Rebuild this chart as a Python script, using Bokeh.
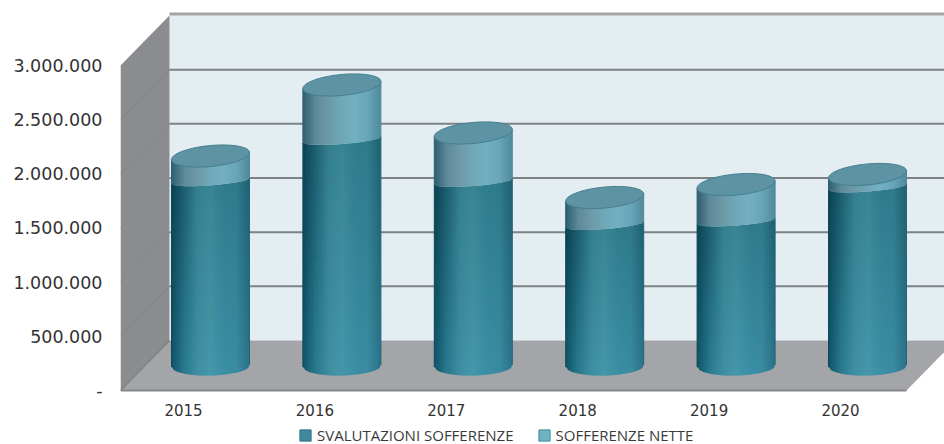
import numpy as np
from bokeh.embed import file_html
from bokeh.models import FixedTicker, Legend, LegendItem, Range1d
from bokeh.plotting import figure
from bokeh.resources import INLINE

years = [2015, 2016, 2017, 2018, 2019, 2020]
svalutazioni = [1709000, 2091000, 1703000, 1306000, 1338000, 1652000]
nette = [229000, 503000, 448000, 249000, 337000, 116000]
y_ticks = [0, 500000, 1000000, 1500000, 2000000, 2500000, 3000000]
y_tick_labels = ["-", "500.000", "1.000.000", "1.500.000", "2.000.000", "2.500.000", "3.000.000"]
series_names = ["SVALUTAZIONI SOFFERENZE", "SOFFERENZE NETTE"]

# Scale factors of the frame: one category step and one axis unit, in pixels.
X_STEP = 131.4
Y_UNIT = 54.17 / 500000
px_x = 1 / X_STEP
px_y = 1 / Y_UNIT

FRAME_W, FRAME_H, BELOW_ZERO = 824, 444, 54
x0 = years[0] - 63 * px_x

p = figure(
    width=944, height=444, output_backend="svg", toolbar_location=None,
    x_range=Range1d(x0, x0 + FRAME_W * px_x),
    y_range=Range1d(-BELOW_ZERO * px_y, (FRAME_H - BELOW_ZERO) * px_y),
    min_border_left=120, min_border_right=0, min_border_top=0, min_border_bottom=0,
    outline_line_color=None, background_fill_color="white", border_fill_color="white",
)
p.grid.visible = False

for ax in (p.xaxis[0], p.yaxis[0]):
    ax.axis_line_color = None
    ax.major_tick_line_color = None
    ax.minor_tick_line_color = None
    ax.major_label_text_font = "DejaVu Sans"
    ax.major_label_text_color = "#333333"
p.yaxis[0].ticker = FixedTicker(ticks=y_ticks)
p.yaxis[0].major_label_overrides = dict(zip(y_ticks, y_tick_labels))
p.yaxis[0].major_label_text_font_size = "17.5px"
p.yaxis[0].major_label_standoff = 12
p.xaxis[0].fixed_location = 0
p.xaxis[0].ticker = FixedTicker(ticks=years)
p.xaxis[0].major_label_overrides = {y: str(y) for y in years}
p.xaxis[0].major_label_text_font_size = "15px"
p.xaxis[0].major_label_standoff = 7

# The 3D box: depth pushes the back plane right and up.
depth_x = 49 * px_x
depth_y = 50 * px_y
left = x0
right = x0 + 786 * px_x
far = x0 + 900 * px_x
y_top = y_ticks[-1]

p.patch([left + depth_x, far, far, left + depth_x],
        [depth_y, depth_y, y_top + depth_y, y_top + depth_y],
        fill_color="#e3edf2", line_color=None)
p.patch([left, left + depth_x, left + depth_x, left],
        [0, depth_y, y_top + depth_y, y_top],
        fill_color="#8b8c90", line_color=None)
p.patch([left, left + depth_x, right + depth_x, right],
        [0, depth_y, depth_y, 0],
        fill_color="#a3a5a8", line_color=None)

for v in y_ticks[1:-1]:
    p.line([left + depth_x, far], [v + depth_y, v + depth_y], line_color="#7d8284", line_width=2)
    p.line([left, left + depth_x], [v, v + depth_y], line_color="#848589", line_width=1)
p.line([left + depth_x, far], [y_top + depth_y + 1.5 * px_y] * 2, line_color="#a3a3a3", line_width=3)
p.line([left, left + depth_x], [0, depth_y], line_color="#7f8083", line_width=1.5)
p.line([left, right], [0, 0], line_color="#86878a", line_width=2)


def mix(stops, t):
    """Interpolate a colour along evenly spaced hex stops."""
    rgb = np.array([[int(c[i:i + 2], 16) for i in (1, 3, 5)] for c in stops], float)
    pos = np.linspace(0, 1, len(stops))
    return "#%02x%02x%02x" % tuple(int(round(np.interp(t, pos, rgb[:, k]))) for k in range(3))


LOWER_TOP = ["#0a4352", "#1d5f70", "#34808f", "#3a8593", "#2f7c8c", "#2f7a8b", "#1e6071"]
LOWER_BOTTOM = ["#0f5468", "#2a7b90", "#3f8fa3", "#4597a9", "#3a8fa6", "#3a8ba0", "#2a7288"]
UPPER = ["#2f5f70", "#5f8a9a", "#6e9aa8", "#6fa8b8", "#74b0c2", "#68a5b8", "#4f8a9c"]

half_w = 39 * px_x
top_b = 10.5 * px_y
top_tilt = 3.5 * px_y
seam_b = 4.5 * px_y
seam_tilt = 3.0 * px_y
base_b = 9.5 * px_y
base_tilt = 1.0 * px_y
base = 24.5 * px_y
shift = 27 * px_x
N_STRIPS = 39
N_BANDS = 24


def front(u, b, s):
    """Height of the visible front edge of a sheared ellipse at position u in [-1, 1]."""
    return s * u - b * np.sqrt(max(1 - u * u, 0))


low_x, low_y, low_c, up_x, up_y, up_c = [], [], [], [], [], []
for year, low, up in zip(years, svalutazioni, nette):
    cx = year + shift
    edges = np.linspace(-1, 1, N_STRIPS + 1)
    for j in range(N_STRIPS):
        a, b = edges[j], edges[j + 1]
        tc = (a + b + 2) / 4
        # Strips overlap the next one by a pixel, which keeps seams from showing.
        xa = cx + a * half_w
        xb = cx + b * half_w + (px_x if j < N_STRIPS - 1 else 0)
        bl, br = front(a, base_b, base_tilt) + base, front(b, base_b, base_tilt) + base
        tl, tr = front(a, seam_b, seam_tilt) + base + low, front(b, seam_b, seam_tilt) + base + low
        for k in range(N_BANDS):
            f0, f1 = k / N_BANDS, (k + 1) / N_BANDS
            over = 1.5 * px_y if k < N_BANDS - 1 else 0
            low_x.append([xa, xb, xb, xa])
            low_y.append([bl + (tl - bl) * f0, br + (tr - br) * f0,
                          br + (tr - br) * f1 + over, bl + (tl - bl) * f1 + over])
            low_c.append(mix([mix(LOWER_BOTTOM, tc), mix(LOWER_TOP, tc)], (k + 0.5) / N_BANDS))
        up_x.append([xa, xb, xb, xa])
        up_y.append([tl, tr, base + low + up + top_tilt * b, base + low + up + top_tilt * a])
        up_c.append(mix(UPPER, tc))

p.patches(low_x, low_y, fill_color=low_c, line_color=None)
p.patches(up_x, up_y, fill_color=up_c, line_color=None)

# Thin edge lines hide the stepping where the strips meet the silhouette.
for year, low, up in zip(years, svalutazioni, nette):
    cx = year + shift
    seam_l, seam_r = base + low - seam_tilt, base + low + seam_tilt
    top_l, top_r = base + low + up - top_tilt, base + low + up + top_tilt
    p.line([cx - half_w] * 2, [base - base_tilt, seam_l], line_color="#0c4858", line_width=1)
    p.line([cx + half_w] * 2, [base + base_tilt, seam_r], line_color="#246678", line_width=1)
    p.line([cx - half_w] * 2, [seam_l, top_l], line_color="#2f5f70", line_width=1)
    p.line([cx + half_w] * 2, [seam_r, top_r], line_color="#4f8a9c", line_width=1)

t = np.linspace(0, 2 * np.pi, 90)
for year, low, up in zip(years, svalutazioni, nette):
    cx = year + shift
    cy = base + low + up
    p.patch(cx + half_w * np.cos(t), cy + top_tilt * np.cos(t) + top_b * np.sin(t),
            fill_color="#5e93a3", line_color="#437f8f", line_width=1)

# Legend swatches come from two rectangles parked outside the visible range.
swatch_a = p.quad(left=[x0 - 3], right=[x0 - 2], bottom=[0], top=[1],
                  fill_color="#3f8a9f", line_color="#2f6f83")
swatch_b = p.quad(left=[x0 - 3], right=[x0 - 2], bottom=[0], top=[1],
                  fill_color="#6fb3c3", line_color="#3f8a9f")
legend = Legend(
    items=[LegendItem(label=series_names[0], renderers=[swatch_a]),
           LegendItem(label=series_names[1], renderers=[swatch_b])],
    orientation="horizontal", location=(178, -1), background_fill_alpha=0,
    border_line_color=None, margin=0, padding=0, spacing=23, label_standoff=5,
    glyph_width=14, glyph_height=14, label_text_font="Open Sans",
    label_text_font_size="15px", label_text_color="#3a3a3a",
)
p.add_layout(legend, "center")

open("out.html", "w").write(file_html(p, INLINE))
